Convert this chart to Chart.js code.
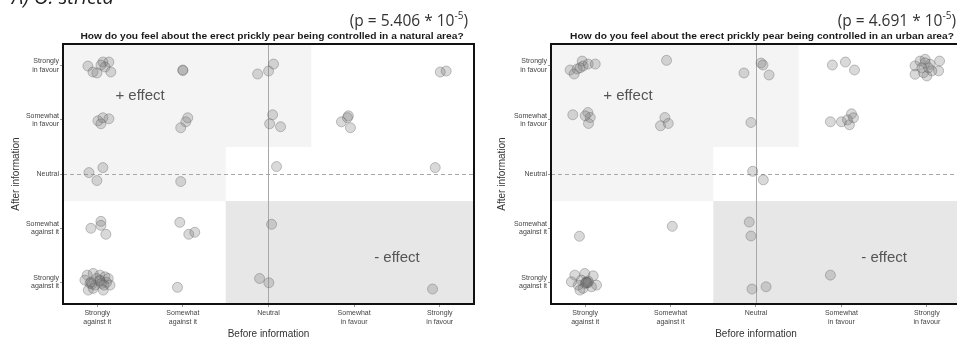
<!DOCTYPE html>
<html><head><meta charset="utf-8">
<script src="https://cdn.jsdelivr.net/npm/chart.js@4"></script>
<style>
html,body{margin:0;padding:0;background:#fff;width:957px;height:343px;overflow:hidden;position:relative;font-family:"Liberation Sans",Arial,sans-serif}
canvas{position:absolute;top:0}
#c1{left:0}
#c2{left:480px}
.t{position:absolute;white-space:nowrap;line-height:1}
.title{font-weight:bold;font-size:10.2px;color:#1a1a1a;top:31px;transform:translateX(-50%) scaleY(0.85)}
.p{font-family:"Open Sans","Liberation Sans",sans-serif;font-size:15.5px;color:#333;top:13px;transform:translateX(-100%)}
.p sup{font-size:10px;vertical-align:7px;line-height:0}
.panel{font-family:"Open Sans","Liberation Sans",sans-serif;font-style:italic;font-size:20px;color:#222;top:-13px;left:12px}
</style>
</head><body>
<canvas id="c1" width="480" height="343"></canvas>
<canvas id="c2" width="490" height="343"></canvas>
<div class="t panel">A) O. stricta</div>
<div class="t p" style="left:468px">(p = 5.406 * 10<sup>-5</sup>)</div>
<div class="t p" style="left:956px">(p = 4.691 * 10<sup>-5</sup>)</div>
<div class="t title" style="left:272px">How do you feel about the erect prickly pear being controlled in a natural area?</div>
<div class="t title" style="left:762px">How do you feel about the erect prickly pear being controlled in an urban area?</div>
<script>
// ---- data ----
const categories = [1, 2, 3, 4, 5];
const xTickLabels = [["Strongly","against it"],["Somewhat","against it"],["Neutral"],["Somewhat","in favour"],["Strongly","in favour"]];
const yTickLabels = [["Strongly","against it"],["Somewhat","against it"],"Neutral",["Somewhat","in favour"],["Strongly","in favour"]];
const effectLabels = ["+ effect", "- effect"];

// Natural area (jittered responses)
const naturalX = [
  0.891,0.950,0.996,1.066,1.136,1.090,1.159,1.043,
  1.999,2.000,
  2.873,3.001,3.059,
  5.006,5.075,
  1.008,1.043,1.066,1.136,
  1.975,2.034,2.057,
  3.048,3.013,3.141,
  3.852,3.933,3.957,3.922,
  0.903,1.066,0.996,
  1.975,
  3.094,
  4.947,
  0.926,1.043,1.043,1.101,
  1.964,2.069,2.139,
  3.036,
  0.883,0.953,1.031,1.090,1.128,0.915,0.973,1.051,1.109,0.895,0.953,1.070,1.031,0.993,0.856,1.148,0.938,1.031,1.078,0.926,
  1.937,
  2.896,3.004,
  4.916
];
const naturalY = [
  4.993,4.883,4.865,5.067,5.067,4.975,4.883,5.012,
  4.920,4.910,
  4.846,4.901,5.030,
  4.883,4.901,
  3.982,3.927,4.038,4.019,
  3.854,3.964,4.038,
  4.093,3.927,3.872,
  3.964,4.074,3.854,4.040,
  3.026,3.118,2.879,
  2.861,
  3.137,
  3.118,
  1.997,2.126,2.052,1.887,
  2.107,1.887,1.924,
  2.071,
  1.133,1.164,1.133,1.102,1.072,0.981,0.949,0.981,0.999,0.857,0.889,0.857,1.041,1.072,1.041,0.949,0.968,1.023,0.949,1.004,
  0.907,
  1.072,0.992,
  0.876
];

// Urban area (jittered responses)
const urbanX = [
  0.824,0.871,0.906,0.965,0.976,1.035,1.118,0.941,
  1.953,
  2.859,3.059,3.082,3.153,
  3.894,4.047,4.153,
  4.862,4.921,4.980,5.039,5.149,5.138,4.862,4.961,5.000,5.059,4.941,5.020,4.980,
  0.855,1.032,1.059,1.039,1.000,
  1.933,1.882,1.973,
  2.941,
  3.871,4.000,4.094,4.118,4.141,4.071,
  2.961,3.086,
  0.933,
  2.020,
  2.921,2.941,
  0.879,0.996,1.094,0.956,1.035,1.015,1.133,0.918,1.074,0.976,0.839,0.938,1.020,1.010,1.000,1.035,
  3.871,
  2.953,3.118
];
const urbanY = [
  4.920,4.846,4.940,5.085,4.993,5.030,5.030,4.960,
  5.098,
  4.865,5.048,5.012,4.828,
  5.012,5.067,4.920,
  4.996,5.085,5.117,5.025,5.085,4.904,4.841,4.871,4.810,4.904,4.960,4.960,5.053,
  4.093,4.135,4.043,3.933,4.074,
  4.043,3.890,3.933,
  3.951,
  3.964,3.964,3.909,4.111,4.038,4.000,
  3.050,2.892,
  1.850,
  2.034,
  2.113,1.856,
  1.133,1.164,1.120,1.041,1.023,0.999,0.949,0.949,0.918,0.889,1.010,0.857,0.990,1.005,0.980,0.995,
  1.133,
  0.876,0.918
];

const axisMin = 0.6, axisMax = 5.4;

// ---- drawing ----
const decor = {
  id: 'decor',
  beforeDatasetsDraw(chart) {
    const {ctx, chartArea: a, scales: {x, y}} = chart;
    ctx.save();
    ctx.beginPath(); ctx.rect(a.left, a.top, a.width, a.height); ctx.clip();
    const box = (x0, x1, y0, y1, c) => {
      const px0 = x.getPixelForValue(x0), px1 = x.getPixelForValue(x1);
      const py0 = y.getPixelForValue(y0), py1 = y.getPixelForValue(y1);
      ctx.fillStyle = c;
      ctx.fillRect(px0, py1, px1 - px0, py0 - py1);
    };
    const light = '#f4f4f4', dark = '#e7e7e7';
    box(axisMin, 3.5, 3.5, axisMax, light);
    box(axisMin, 2.5, 2.5, 3.5, light);
    box(2.5, axisMax, axisMin, 2.5, dark);
    ctx.strokeStyle = '#a8a8a8';
    ctx.lineWidth = 1;
    const vx = Math.round(x.getPixelForValue(3)) + 0.5;
    ctx.beginPath(); ctx.moveTo(vx, a.top); ctx.lineTo(vx, a.bottom); ctx.stroke();
    const hy = Math.round(y.getPixelForValue(3)) + 0.5;
    ctx.setLineDash([4, 3]);
    ctx.beginPath(); ctx.moveTo(a.left, hy); ctx.lineTo(a.right, hy); ctx.stroke();
    ctx.setLineDash([]);
    // effect labels
    ctx.fillStyle = '#555';
    ctx.font = '15px "Liberation Sans", Arial, sans-serif';
    ctx.textAlign = 'center';
    ctx.textBaseline = 'middle';
    ctx.fillText(effectLabels[0], x.getPixelForValue(1.5), y.getPixelForValue(4.45));
    ctx.fillText(effectLabels[1], x.getPixelForValue(4.5), y.getPixelForValue(1.46));
    ctx.restore();
  },
  afterDraw(chart) {
    const {ctx, chartArea: a} = chart;
    ctx.save();
    ctx.strokeStyle = '#111';
    ctx.lineWidth = 2;
    ctx.strokeRect(a.left, a.top, a.width, a.height);
    ctx.restore();
  }
};

function makeChart(id, xs, ys, areaLeft, padL, padR) {
  const pts = xs.map((v, i) => ({x: v, y: ys[i]}));
  const tickFont = {family: '"Liberation Sans", Arial, sans-serif', size: 7};
  return new Chart(document.getElementById(id), {
    type: 'scatter',
    data: {datasets: [{
      data: pts,
      backgroundColor: 'rgba(120,120,120,0.28)',
      borderColor: 'rgba(90,90,90,0.35)',
      borderWidth: 1,
      pointRadius: 5,
      pointHoverRadius: 5
    }]},
    options: {
      responsive: false,
      animation: false,
      events: [],
      layout: {padding: {top: 44, right: padR, bottom: 0, left: padL}},
      plugins: {legend: {display: false}, tooltip: {enabled: false}, title: {display: false}},
      scales: {
        x: {
          type: 'linear', min: axisMin, max: axisMax,
          afterBuildTicks: ax => { ax.ticks = categories.map(v => ({value: v})); },
          afterFit: s => { s.height = 39; },
          ticks: {font: tickFont, color: '#444', padding: 2, maxRotation: 0, autoSkip: false,
                  callback: (v) => xTickLabels[categories.indexOf(v)]},
          grid: {display: true, drawOnChartArea: false, drawTicks: true, tickLength: 3, color: '#999'},
          border: {display: false},
          title: {display: true, text: 'Before information', color: '#333',
                  font: {family: '"Liberation Sans", Arial, sans-serif', size: 10}, padding: {top: 2, bottom: 3}}
        },
        y: {
          type: 'linear', min: axisMin, max: axisMax,
          afterBuildTicks: ax => { ax.ticks = categories.map(v => ({value: v})); },
          afterFit: s => { s.width = areaLeft - padL; },
          ticks: {font: tickFont, color: '#444', padding: 1, autoSkip: false,
                  callback: (v) => yTickLabels[categories.indexOf(v)]},
          grid: {display: true, drawOnChartArea: false, drawTicks: true, tickLength: 3, color: '#999'},
          border: {display: false},
          title: {display: true, text: 'After information', color: '#333',
                  font: {family: '"Liberation Sans", Arial, sans-serif', size: 10}, padding: {top: 0, bottom: 0}}
        }
      }
    },
    plugins: [decor]
  });
}

makeChart('c1', naturalX, naturalY, 63, 10, 5);
makeChart('c2', urbanX, urbanY, 71, 16, 9);
</script>
</body></html>
